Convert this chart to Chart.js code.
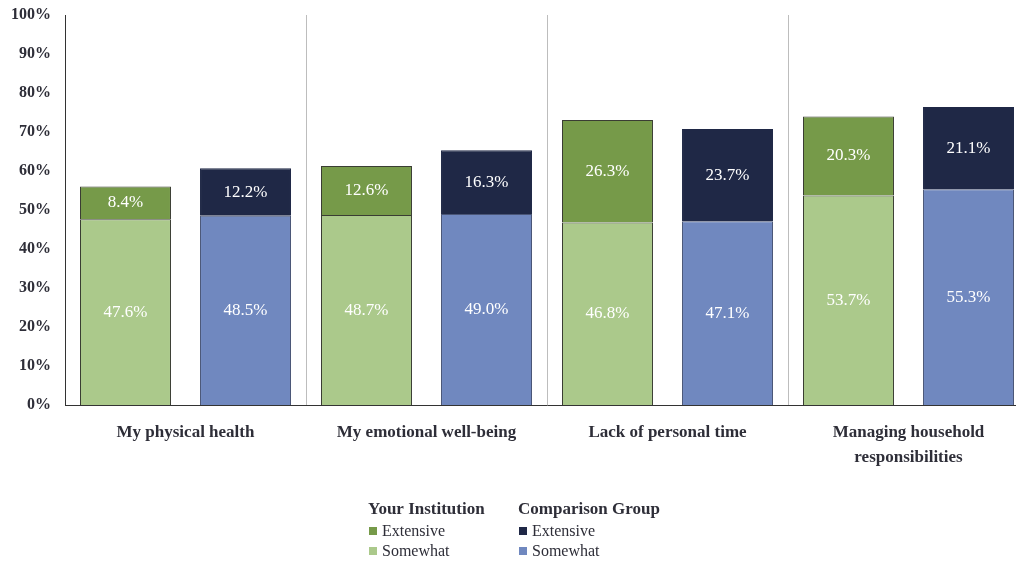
<!DOCTYPE html>
<html>
<head>
<meta charset="utf-8">
<script src="https://cdn.jsdelivr.net/npm/chart.js@4"></script>
<style>
  body { margin: 0; overflow: hidden; background: #fff; }
  #wrap { width: 1030px; height: 563px; position: relative; }
</style>
</head>
<body>
<div id="wrap"><canvas id="myChart"></canvas></div>
<script>
// survey items and shares (%)
const categories = ['My physical health', 'My emotional well-being', 'Lack of personal time', ['Managing household', 'responsibilities']];
const instSomewhat = [47.6, 48.7, 46.8, 53.7];
const instExtensive = [8.4, 12.6, 26.3, 20.3];
const compSomewhat = [48.5, 49.0, 47.1, 55.3];
const compExtensive = [12.2, 16.3, 23.7, 21.1];
const groupNames = ['Your Institution', 'Comparison Group'];

const serif = "'Liberation Serif', 'DejaVu Serif', serif";
const textColor = '#2e2e38';

// white value labels in the middle of each segment
const barLabels = {
    id: 'barLabels',
    afterDatasetsDraw(chart) {
        const ctx = chart.ctx;
        ctx.save();
        ctx.fillStyle = '#fff';
        ctx.textAlign = 'center';
        ctx.textBaseline = 'middle';
        ctx.font = '17px ' + serif;
        chart.data.datasets.forEach((ds, i) => {
            chart.getDatasetMeta(i).data.forEach((bar, j) => {
                const p = bar.getCenterPoint();
                ctx.fillText(ds.data[j].toFixed(1) + '%', p.x, p.y);
            });
        });
        ctx.restore();
    }
};

// two-column legend under the axis
const groupLegend = {
    id: 'groupLegend',
    afterDraw(chart) {
        const ctx = chart.ctx;
        const cols = [368, 518];
        ctx.save();
        ctx.textBaseline = 'middle';
        ctx.textAlign = 'left';
        groupNames.forEach((name, g) => {
            const x = cols[g];
            ctx.fillStyle = textColor;
            ctx.font = 'bold 17px ' + serif;
            ctx.fillText(name, x, 510);
            // extensive first, then somewhat
            [g * 2 + 1, g * 2].forEach((di, k) => {
                const ds = chart.data.datasets[di];
                const y = 531 + k * 20;
                ctx.fillStyle = ds.backgroundColor;
                ctx.fillRect(x + 1, y - 4, 8, 8);
                ctx.fillStyle = textColor;
                ctx.font = '16px ' + serif;
                ctx.fillText(ds.label, x + 14, y + 1);
            });
        });
        ctx.restore();
    }
};

var ctx = document.getElementById('myChart').getContext('2d');
var chart = new Chart(ctx, {
    type: 'bar',
    data: {
        labels: categories,
        datasets: [
            { label: 'Somewhat', data: instSomewhat, stack: 'inst', backgroundColor: '#abc98b', borderColor: '#3a3d33', borderWidth: 1 },
            { label: 'Extensive', data: instExtensive, stack: 'inst', backgroundColor: '#769a49', borderColor: '#3a3d33', borderWidth: 1 },
            { label: 'Somewhat', data: compSomewhat, stack: 'comp', backgroundColor: '#7088bf', borderColor: '#4a5677', borderWidth: 1 },
            { label: 'Extensive', data: compExtensive, stack: 'comp', backgroundColor: '#1f2846', borderColor: '#1f2846', borderWidth: 1 }
        ]
    },
    options: {
        responsive: true,
        maintainAspectRatio: false,
        animation: false,
        categoryPercentage: 0.996,
        barPercentage: 0.758,
        layout: { padding: { top: 15, left: 0, right: 1, bottom: 0 } },
        plugins: {
            legend: { display: false },
            tooltip: { enabled: false }
        },
        scales: {
            x: {
                stacked: true,
                grid: { offset: true, color: '#bdbdbd', lineWidth: 1, drawTicks: false },
                border: { color: '#333', width: 1 },
                ticks: {
                    color: textColor,
                    padding: 16,
                    maxRotation: 0,
                    font: { family: serif, size: 17, weight: 'bold', lineHeight: 1.42 }
                },
                afterFit: s => { s.height = 158; s.paddingLeft = 0; s.paddingRight = 0; }
            },
            y: {
                stacked: true,
                min: 0,
                max: 100,
                grid: { display: false, drawTicks: false },
                border: { color: '#333', width: 1 },
                ticks: {
                    stepSize: 10,
                    color: textColor,
                    padding: 14,
                    font: { family: serif, size: 16, weight: 'bold' },
                    callback: v => v + '%'
                },
                afterFit: s => { s.width = 65; s.paddingTop = 0; s.paddingBottom = 0; }
            }
        }
    },
    plugins: [barLabels, groupLegend]
});
</script>
</body>
</html>
